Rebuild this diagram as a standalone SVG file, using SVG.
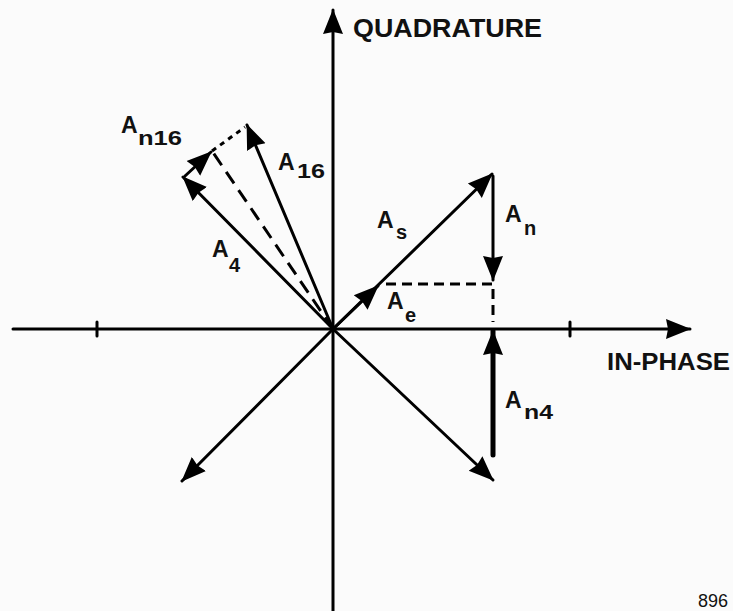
<svg xmlns="http://www.w3.org/2000/svg" width="733" height="611" viewBox="0 0 733 611">
  <style>
    .ln { stroke: #000; stroke-width: 3; fill: none; stroke-linecap: round; }
    .thick { stroke-width: 5; }
    .dash { stroke: #000; stroke-width: 3; fill: none; stroke-dasharray: 14 8; }
    .dash2 { stroke: #000; stroke-width: 3; fill: none; stroke-dasharray: 10 6; }
    .dot { stroke: #000; stroke-width: 3; fill: none; stroke-dasharray: 5 5; }
    .arr { marker-end: url(#ah); }
    text { font-family: "Liberation Sans", Arial, sans-serif; font-weight: bold; fill: #111; }
    .lbl { font-size: 23px; }
    .sub { font-size: 20px; }
    .ax { font-size: 25px; }
  </style>
  <defs>
    <marker id="ah" viewBox="0 0 26 22" refX="24" refY="11" markerWidth="26" markerHeight="22" orient="auto" markerUnits="userSpaceOnUse">
      <path d="M0,1 L25,11 L0,21 L2,11 z" fill="#000"/>
    </marker>
  </defs>
  <rect width="733" height="611" fill="#fbfbfb"/>

  <g id="axes">
    <path class="ln arr" d="M333,611 V10"/>
    <path class="ln arr" d="M13,329 H690"/>
    <path class="ln" d="M97,322 V336" stroke-width="4"/>
    <path class="ln" d="M570,322 V336" stroke-width="4"/>
    <text class="ax" x="353" y="37" textLength="189" lengthAdjust="spacingAndGlyphs">QUADRATURE</text>
    <text x="607" y="370" style="font-size:24px" textLength="123" lengthAdjust="spacingAndGlyphs">IN-PHASE</text>
  </g>

  <g id="connectors">
    <path id="vec-As" class="ln arr" d="M333,329 L492,174"/>
    <path id="vec-Ae" class="ln arr" d="M333,329 L378,286"/>
    <path id="vec-An" class="ln arr" d="M493,176 V280"/>
    <path id="vec-An4" class="ln thick arr" d="M493,455 V331"/>
    <path id="vec-lr" class="ln arr" d="M333,329 L493,480"/>
    <path id="vec-ll" class="ln arr" d="M333,329 L182,481"/>
    <path id="vec-A4" class="ln arr" d="M333,329 L183,177"/>
    <path id="vec-A16" class="ln arr" d="M333,329 L247,125"/>
    <path id="vec-An16" class="ln arr" d="M185,176 L211,152"/>
    <path id="dash-sum" class="dash" d="M333,329 L212,151"/>
    <path id="dot-link" class="dot" d="M212,151 L245,127"/>
    <path id="dash-proj" class="dash2" d="M386,284 H493 V322"/>
  </g>

  <g id="labels">
    <g id="lbl-An16"><text class="lbl" x="121" y="133">A</text><text class="sub" x="138" y="145" textLength="44" lengthAdjust="spacingAndGlyphs">n16</text></g>
    <g id="lbl-A16"><text class="lbl" x="278" y="170">A</text><text class="sub" x="297" y="178" textLength="28" lengthAdjust="spacingAndGlyphs">16</text></g>
    <g id="lbl-A4"><text class="lbl" x="212" y="257">A</text><text class="sub" x="229" y="272">4</text></g>
    <g id="lbl-As"><text class="lbl" x="377" y="228">A</text><text class="sub" x="396" y="239">s</text></g>
    <g id="lbl-An"><text class="lbl" x="505" y="222">A</text><text class="sub" x="524" y="235">n</text></g>
    <g id="lbl-Ae"><text class="lbl" x="387" y="309">A</text><text class="sub" x="405" y="322">e</text></g>
    <g id="lbl-An4"><text class="lbl" x="505" y="408">A</text><text class="sub" x="524" y="419" textLength="29" lengthAdjust="spacingAndGlyphs">n4</text></g>
    <text id="fig-no" x="698" y="607" style="font-size:18px;font-weight:normal">896</text>
  </g>
</svg>
